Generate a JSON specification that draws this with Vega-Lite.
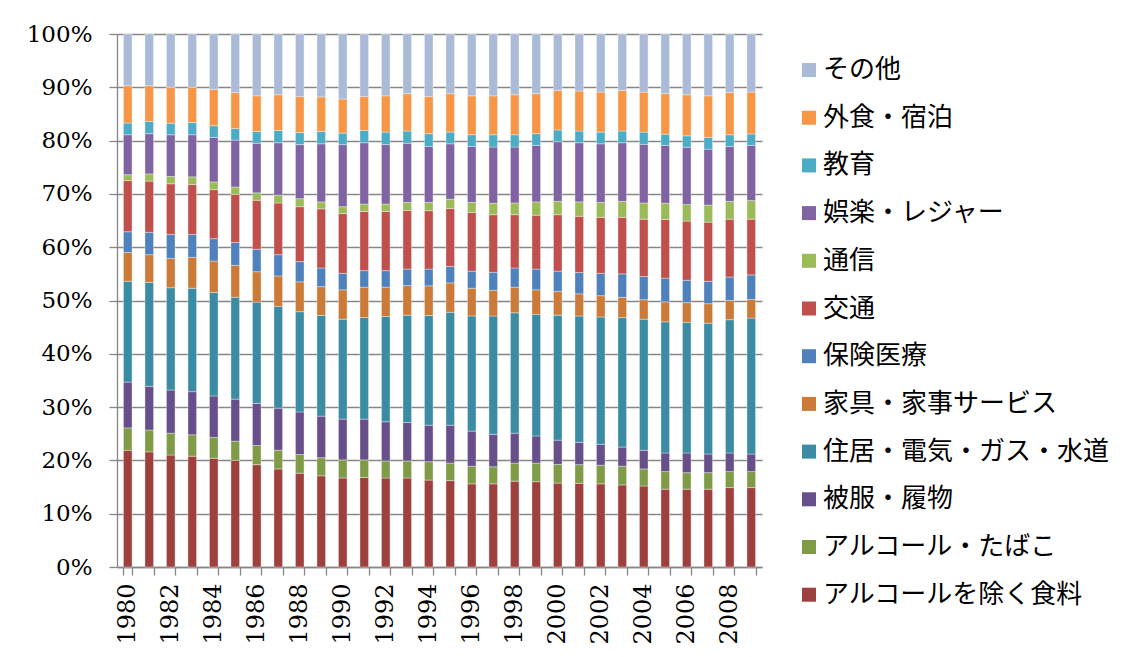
{
  "$schema": "https://vega.github.io/schema/vega-lite/v6.json",
  "width": 645,
  "height": 533,
  "autosize": {"type": "none"},
  "padding": {"left": 117, "top": 34, "right": 374, "bottom": 90},
  "background": "#ffffff",
  "config": {
    "view": {"stroke": null},
    "axis": {
      "labelFont": "DejaVu Serif",
      "labelFontSize": 23,
      "labelColor": "#000000",
      "domainColor": "#868686",
      "tickColor": "#868686",
      "gridColor": "#868686",
      "domainWidth": 1.3,
      "tickWidth": 1.3,
      "gridWidth": 1.3,
      "tickSize": 8
    }
  },
  "datasets": {
    "cats": [
      {"key": "fd", "name": "アルコールを除く食料", "k": 1},
      {"key": "al", "name": "アルコール・たばこ", "k": 2},
      {"key": "cl", "name": "被服・履物", "k": 3},
      {"key": "ho", "name": "住居・電気・ガス・水道", "k": 4},
      {"key": "fu", "name": "家具・家事サービス", "k": 5},
      {"key": "me", "name": "保険医療", "k": 6},
      {"key": "tr", "name": "交通", "k": 7},
      {"key": "co", "name": "通信", "k": 8},
      {"key": "re", "name": "娯楽・レジャー", "k": 9},
      {"key": "ed", "name": "教育", "k": 10},
      {"key": "di", "name": "外食・宿泊", "k": 11},
      {"key": "ot", "name": "その他", "k": 12}
    ],
    "shares": [
      {"year": 1980, "key": "fd", "v": 21.9}, {"year": 1980, "key": "al", "v": 4.2}, {"year": 1980, "key": "cl", "v": 8.6}, {"year": 1980, "key": "ho", "v": 18.9}, {"year": 1980, "key": "fu", "v": 5.4}, {"year": 1980, "key": "me", "v": 3.9}, {"year": 1980, "key": "tr", "v": 9.6}, {"year": 1980, "key": "co", "v": 1.1}, {"year": 1980, "key": "re", "v": 7.5}, {"year": 1980, "key": "ed", "v": 2.2}, {"year": 1980, "key": "di", "v": 7.0}, {"year": 1980, "key": "ot", "v": 9.7},
      {"year": 1981, "key": "fd", "v": 21.6}, {"year": 1981, "key": "al", "v": 4.1}, {"year": 1981, "key": "cl", "v": 8.2}, {"year": 1981, "key": "ho", "v": 19.5}, {"year": 1981, "key": "fu", "v": 5.2}, {"year": 1981, "key": "me", "v": 4.2}, {"year": 1981, "key": "tr", "v": 9.6}, {"year": 1981, "key": "co", "v": 1.35}, {"year": 1981, "key": "re", "v": 7.55}, {"year": 1981, "key": "ed", "v": 2.3}, {"year": 1981, "key": "di", "v": 6.7}, {"year": 1981, "key": "ot", "v": 9.7},
      {"year": 1982, "key": "fd", "v": 21.0}, {"year": 1982, "key": "al", "v": 4.1}, {"year": 1982, "key": "cl", "v": 8.1}, {"year": 1982, "key": "ho", "v": 19.2}, {"year": 1982, "key": "fu", "v": 5.5}, {"year": 1982, "key": "me", "v": 4.5}, {"year": 1982, "key": "tr", "v": 9.5}, {"year": 1982, "key": "co", "v": 1.35}, {"year": 1982, "key": "re", "v": 7.85}, {"year": 1982, "key": "ed", "v": 2.15}, {"year": 1982, "key": "di", "v": 6.75}, {"year": 1982, "key": "ot", "v": 10.0},
      {"year": 1983, "key": "fd", "v": 20.8}, {"year": 1983, "key": "al", "v": 4.0}, {"year": 1983, "key": "cl", "v": 8.1}, {"year": 1983, "key": "ho", "v": 19.4}, {"year": 1983, "key": "fu", "v": 5.8}, {"year": 1983, "key": "me", "v": 4.3}, {"year": 1983, "key": "tr", "v": 9.35}, {"year": 1983, "key": "co", "v": 1.45}, {"year": 1983, "key": "re", "v": 7.9}, {"year": 1983, "key": "ed", "v": 2.3}, {"year": 1983, "key": "di", "v": 6.6}, {"year": 1983, "key": "ot", "v": 10.0},
      {"year": 1984, "key": "fd", "v": 20.4}, {"year": 1984, "key": "al", "v": 3.9}, {"year": 1984, "key": "cl", "v": 7.8}, {"year": 1984, "key": "ho", "v": 19.4}, {"year": 1984, "key": "fu", "v": 5.9}, {"year": 1984, "key": "me", "v": 4.2}, {"year": 1984, "key": "tr", "v": 9.2}, {"year": 1984, "key": "co", "v": 1.45}, {"year": 1984, "key": "re", "v": 8.35}, {"year": 1984, "key": "ed", "v": 2.2}, {"year": 1984, "key": "di", "v": 6.8}, {"year": 1984, "key": "ot", "v": 10.4},
      {"year": 1985, "key": "fd", "v": 20.0}, {"year": 1985, "key": "al", "v": 3.6}, {"year": 1985, "key": "cl", "v": 7.9}, {"year": 1985, "key": "ho", "v": 19.1}, {"year": 1985, "key": "fu", "v": 6.0}, {"year": 1985, "key": "me", "v": 4.3}, {"year": 1985, "key": "tr", "v": 9.0}, {"year": 1985, "key": "co", "v": 1.4}, {"year": 1985, "key": "re", "v": 8.8}, {"year": 1985, "key": "ed", "v": 2.15}, {"year": 1985, "key": "di", "v": 6.75}, {"year": 1985, "key": "ot", "v": 11.0},
      {"year": 1986, "key": "fd", "v": 19.2}, {"year": 1986, "key": "al", "v": 3.6}, {"year": 1986, "key": "cl", "v": 7.9}, {"year": 1986, "key": "ho", "v": 19.0}, {"year": 1986, "key": "fu", "v": 5.7}, {"year": 1986, "key": "me", "v": 4.2}, {"year": 1986, "key": "tr", "v": 9.2}, {"year": 1986, "key": "co", "v": 1.4}, {"year": 1986, "key": "re", "v": 9.3}, {"year": 1986, "key": "ed", "v": 2.2}, {"year": 1986, "key": "di", "v": 6.7}, {"year": 1986, "key": "ot", "v": 11.6},
      {"year": 1987, "key": "fd", "v": 18.4}, {"year": 1987, "key": "al", "v": 3.5}, {"year": 1987, "key": "cl", "v": 7.9}, {"year": 1987, "key": "ho", "v": 19.1}, {"year": 1987, "key": "fu", "v": 5.7}, {"year": 1987, "key": "me", "v": 4.0}, {"year": 1987, "key": "tr", "v": 9.7}, {"year": 1987, "key": "co", "v": 1.45}, {"year": 1987, "key": "re", "v": 9.85}, {"year": 1987, "key": "ed", "v": 2.3}, {"year": 1987, "key": "di", "v": 6.7}, {"year": 1987, "key": "ot", "v": 11.4},
      {"year": 1988, "key": "fd", "v": 17.6}, {"year": 1988, "key": "al", "v": 3.5}, {"year": 1988, "key": "cl", "v": 8.0}, {"year": 1988, "key": "ho", "v": 18.8}, {"year": 1988, "key": "fu", "v": 5.6}, {"year": 1988, "key": "me", "v": 3.8}, {"year": 1988, "key": "tr", "v": 10.3}, {"year": 1988, "key": "co", "v": 1.5}, {"year": 1988, "key": "re", "v": 10.15}, {"year": 1988, "key": "ed", "v": 2.25}, {"year": 1988, "key": "di", "v": 6.75}, {"year": 1988, "key": "ot", "v": 11.75},
      {"year": 1989, "key": "fd", "v": 17.1}, {"year": 1989, "key": "al", "v": 3.4}, {"year": 1989, "key": "cl", "v": 7.8}, {"year": 1989, "key": "ho", "v": 18.9}, {"year": 1989, "key": "fu", "v": 5.4}, {"year": 1989, "key": "me", "v": 3.5}, {"year": 1989, "key": "tr", "v": 11.1}, {"year": 1989, "key": "co", "v": 1.3}, {"year": 1989, "key": "re", "v": 10.9}, {"year": 1989, "key": "ed", "v": 2.3}, {"year": 1989, "key": "di", "v": 6.5}, {"year": 1989, "key": "ot", "v": 11.8},
      {"year": 1990, "key": "fd", "v": 16.7}, {"year": 1990, "key": "al", "v": 3.4}, {"year": 1990, "key": "cl", "v": 7.65}, {"year": 1990, "key": "ho", "v": 18.75}, {"year": 1990, "key": "fu", "v": 5.5}, {"year": 1990, "key": "me", "v": 3.1}, {"year": 1990, "key": "tr", "v": 11.2}, {"year": 1990, "key": "co", "v": 1.3}, {"year": 1990, "key": "re", "v": 11.65}, {"year": 1990, "key": "ed", "v": 2.15}, {"year": 1990, "key": "di", "v": 6.4}, {"year": 1990, "key": "ot", "v": 12.2},
      {"year": 1991, "key": "fd", "v": 16.8}, {"year": 1991, "key": "al", "v": 3.3}, {"year": 1991, "key": "cl", "v": 7.65}, {"year": 1991, "key": "ho", "v": 19.05}, {"year": 1991, "key": "fu", "v": 5.7}, {"year": 1991, "key": "me", "v": 3.1}, {"year": 1991, "key": "tr", "v": 11.1}, {"year": 1991, "key": "co", "v": 1.4}, {"year": 1991, "key": "re", "v": 11.5}, {"year": 1991, "key": "ed", "v": 2.3}, {"year": 1991, "key": "di", "v": 6.35}, {"year": 1991, "key": "ot", "v": 11.75},
      {"year": 1992, "key": "fd", "v": 16.7}, {"year": 1992, "key": "al", "v": 3.2}, {"year": 1992, "key": "cl", "v": 7.35}, {"year": 1992, "key": "ho", "v": 19.75}, {"year": 1992, "key": "fu", "v": 5.5}, {"year": 1992, "key": "me", "v": 3.1}, {"year": 1992, "key": "tr", "v": 11.1}, {"year": 1992, "key": "co", "v": 1.4}, {"year": 1992, "key": "re", "v": 11.15}, {"year": 1992, "key": "ed", "v": 2.35}, {"year": 1992, "key": "di", "v": 6.8}, {"year": 1992, "key": "ot", "v": 11.6},
      {"year": 1993, "key": "fd", "v": 16.7}, {"year": 1993, "key": "al", "v": 3.2}, {"year": 1993, "key": "cl", "v": 7.2}, {"year": 1993, "key": "ho", "v": 20.15}, {"year": 1993, "key": "fu", "v": 5.55}, {"year": 1993, "key": "me", "v": 3.1}, {"year": 1993, "key": "tr", "v": 11.0}, {"year": 1993, "key": "co", "v": 1.5}, {"year": 1993, "key": "re", "v": 11.1}, {"year": 1993, "key": "ed", "v": 2.3}, {"year": 1993, "key": "di", "v": 7.0}, {"year": 1993, "key": "ot", "v": 11.2},
      {"year": 1994, "key": "fd", "v": 16.3}, {"year": 1994, "key": "al", "v": 3.45}, {"year": 1994, "key": "cl", "v": 6.85}, {"year": 1994, "key": "ho", "v": 20.6}, {"year": 1994, "key": "fu", "v": 5.55}, {"year": 1994, "key": "me", "v": 3.15}, {"year": 1994, "key": "tr", "v": 10.95}, {"year": 1994, "key": "co", "v": 1.55}, {"year": 1994, "key": "re", "v": 10.5}, {"year": 1994, "key": "ed", "v": 2.4}, {"year": 1994, "key": "di", "v": 6.95}, {"year": 1994, "key": "ot", "v": 11.75},
      {"year": 1995, "key": "fd", "v": 16.2}, {"year": 1995, "key": "al", "v": 3.3}, {"year": 1995, "key": "cl", "v": 7.1}, {"year": 1995, "key": "ho", "v": 21.2}, {"year": 1995, "key": "fu", "v": 5.5}, {"year": 1995, "key": "me", "v": 3.1}, {"year": 1995, "key": "tr", "v": 10.85}, {"year": 1995, "key": "co", "v": 1.75}, {"year": 1995, "key": "re", "v": 10.4}, {"year": 1995, "key": "ed", "v": 2.2}, {"year": 1995, "key": "di", "v": 7.2}, {"year": 1995, "key": "ot", "v": 11.2},
      {"year": 1996, "key": "fd", "v": 15.6}, {"year": 1996, "key": "al", "v": 3.3}, {"year": 1996, "key": "cl", "v": 6.6}, {"year": 1996, "key": "ho", "v": 21.6}, {"year": 1996, "key": "fu", "v": 5.2}, {"year": 1996, "key": "me", "v": 3.2}, {"year": 1996, "key": "tr", "v": 11.0}, {"year": 1996, "key": "co", "v": 1.9}, {"year": 1996, "key": "re", "v": 10.5}, {"year": 1996, "key": "ed", "v": 2.2}, {"year": 1996, "key": "di", "v": 7.3}, {"year": 1996, "key": "ot", "v": 11.6},
      {"year": 1997, "key": "fd", "v": 15.6}, {"year": 1997, "key": "al", "v": 3.2}, {"year": 1997, "key": "cl", "v": 6.1}, {"year": 1997, "key": "ho", "v": 22.2}, {"year": 1997, "key": "fu", "v": 4.8}, {"year": 1997, "key": "me", "v": 3.4}, {"year": 1997, "key": "tr", "v": 10.8}, {"year": 1997, "key": "co", "v": 2.15}, {"year": 1997, "key": "re", "v": 10.55}, {"year": 1997, "key": "ed", "v": 2.3}, {"year": 1997, "key": "di", "v": 7.3}, {"year": 1997, "key": "ot", "v": 11.6},
      {"year": 1998, "key": "fd", "v": 16.1}, {"year": 1998, "key": "al", "v": 3.4}, {"year": 1998, "key": "cl", "v": 5.6}, {"year": 1998, "key": "ho", "v": 22.6}, {"year": 1998, "key": "fu", "v": 4.8}, {"year": 1998, "key": "me", "v": 3.6}, {"year": 1998, "key": "tr", "v": 10.0}, {"year": 1998, "key": "co", "v": 2.2}, {"year": 1998, "key": "re", "v": 10.5}, {"year": 1998, "key": "ed", "v": 2.3}, {"year": 1998, "key": "di", "v": 7.5}, {"year": 1998, "key": "ot", "v": 11.4},
      {"year": 1999, "key": "fd", "v": 16.0}, {"year": 1999, "key": "al", "v": 3.5}, {"year": 1999, "key": "cl", "v": 5.1}, {"year": 1999, "key": "ho", "v": 22.8}, {"year": 1999, "key": "fu", "v": 4.6}, {"year": 1999, "key": "me", "v": 3.9}, {"year": 1999, "key": "tr", "v": 10.1}, {"year": 1999, "key": "co", "v": 2.5}, {"year": 1999, "key": "re", "v": 10.6}, {"year": 1999, "key": "ed", "v": 2.2}, {"year": 1999, "key": "di", "v": 7.5}, {"year": 1999, "key": "ot", "v": 11.2},
      {"year": 2000, "key": "fd", "v": 15.75}, {"year": 2000, "key": "al", "v": 3.5}, {"year": 2000, "key": "cl", "v": 4.55}, {"year": 2000, "key": "ho", "v": 23.45}, {"year": 2000, "key": "fu", "v": 4.45}, {"year": 2000, "key": "me", "v": 3.8}, {"year": 2000, "key": "tr", "v": 10.6}, {"year": 2000, "key": "co", "v": 2.5}, {"year": 2000, "key": "re", "v": 11.2}, {"year": 2000, "key": "ed", "v": 2.2}, {"year": 2000, "key": "di", "v": 7.4}, {"year": 2000, "key": "ot", "v": 10.6},
      {"year": 2001, "key": "fd", "v": 15.7}, {"year": 2001, "key": "al", "v": 3.5}, {"year": 2001, "key": "cl", "v": 4.2}, {"year": 2001, "key": "ho", "v": 23.7}, {"year": 2001, "key": "fu", "v": 4.15}, {"year": 2001, "key": "me", "v": 4.0}, {"year": 2001, "key": "tr", "v": 10.55}, {"year": 2001, "key": "co", "v": 2.7}, {"year": 2001, "key": "re", "v": 11.1}, {"year": 2001, "key": "ed", "v": 2.2}, {"year": 2001, "key": "di", "v": 7.5}, {"year": 2001, "key": "ot", "v": 10.7},
      {"year": 2002, "key": "fd", "v": 15.6}, {"year": 2002, "key": "al", "v": 3.5}, {"year": 2002, "key": "cl", "v": 3.9}, {"year": 2002, "key": "ho", "v": 23.9}, {"year": 2002, "key": "fu", "v": 4.0}, {"year": 2002, "key": "me", "v": 4.2}, {"year": 2002, "key": "tr", "v": 10.5}, {"year": 2002, "key": "co", "v": 2.8}, {"year": 2002, "key": "re", "v": 11.0}, {"year": 2002, "key": "ed", "v": 2.2}, {"year": 2002, "key": "di", "v": 7.5}, {"year": 2002, "key": "ot", "v": 10.9},
      {"year": 2003, "key": "fd", "v": 15.4}, {"year": 2003, "key": "al", "v": 3.5}, {"year": 2003, "key": "cl", "v": 3.6}, {"year": 2003, "key": "ho", "v": 24.3}, {"year": 2003, "key": "fu", "v": 3.8}, {"year": 2003, "key": "me", "v": 4.4}, {"year": 2003, "key": "tr", "v": 10.6}, {"year": 2003, "key": "co", "v": 3.0}, {"year": 2003, "key": "re", "v": 11.0}, {"year": 2003, "key": "ed", "v": 2.2}, {"year": 2003, "key": "di", "v": 7.6}, {"year": 2003, "key": "ot", "v": 10.6},
      {"year": 2004, "key": "fd", "v": 15.2}, {"year": 2004, "key": "al", "v": 3.2}, {"year": 2004, "key": "cl", "v": 3.5}, {"year": 2004, "key": "ho", "v": 24.6}, {"year": 2004, "key": "fu", "v": 3.65}, {"year": 2004, "key": "me", "v": 4.35}, {"year": 2004, "key": "tr", "v": 10.75}, {"year": 2004, "key": "co", "v": 3.05}, {"year": 2004, "key": "re", "v": 11.0}, {"year": 2004, "key": "ed", "v": 2.3}, {"year": 2004, "key": "di", "v": 7.5}, {"year": 2004, "key": "ot", "v": 10.9},
      {"year": 2005, "key": "fd", "v": 14.6}, {"year": 2005, "key": "al", "v": 3.3}, {"year": 2005, "key": "cl", "v": 3.5}, {"year": 2005, "key": "ho", "v": 24.6}, {"year": 2005, "key": "fu", "v": 3.75}, {"year": 2005, "key": "me", "v": 4.45}, {"year": 2005, "key": "tr", "v": 11.0}, {"year": 2005, "key": "co", "v": 3.05}, {"year": 2005, "key": "re", "v": 10.85}, {"year": 2005, "key": "ed", "v": 2.1}, {"year": 2005, "key": "di", "v": 7.6}, {"year": 2005, "key": "ot", "v": 11.2},
      {"year": 2006, "key": "fd", "v": 14.6}, {"year": 2006, "key": "al", "v": 3.1}, {"year": 2006, "key": "cl", "v": 3.7}, {"year": 2006, "key": "ho", "v": 24.5}, {"year": 2006, "key": "fu", "v": 3.7}, {"year": 2006, "key": "me", "v": 4.2}, {"year": 2006, "key": "tr", "v": 11.1}, {"year": 2006, "key": "co", "v": 3.1}, {"year": 2006, "key": "re", "v": 10.75}, {"year": 2006, "key": "ed", "v": 2.15}, {"year": 2006, "key": "di", "v": 7.7}, {"year": 2006, "key": "ot", "v": 11.4},
      {"year": 2007, "key": "fd", "v": 14.6}, {"year": 2007, "key": "al", "v": 3.1}, {"year": 2007, "key": "cl", "v": 3.5}, {"year": 2007, "key": "ho", "v": 24.55}, {"year": 2007, "key": "fu", "v": 3.65}, {"year": 2007, "key": "me", "v": 4.2}, {"year": 2007, "key": "tr", "v": 11.1}, {"year": 2007, "key": "co", "v": 3.2}, {"year": 2007, "key": "re", "v": 10.5}, {"year": 2007, "key": "ed", "v": 2.2}, {"year": 2007, "key": "di", "v": 7.8}, {"year": 2007, "key": "ot", "v": 11.6},
      {"year": 2008, "key": "fd", "v": 14.9}, {"year": 2008, "key": "al", "v": 3.0}, {"year": 2008, "key": "cl", "v": 3.5}, {"year": 2008, "key": "ho", "v": 25.0}, {"year": 2008, "key": "fu", "v": 3.6}, {"year": 2008, "key": "me", "v": 4.4}, {"year": 2008, "key": "tr", "v": 10.85}, {"year": 2008, "key": "co", "v": 3.35}, {"year": 2008, "key": "re", "v": 10.3}, {"year": 2008, "key": "ed", "v": 2.2}, {"year": 2008, "key": "di", "v": 7.9}, {"year": 2008, "key": "ot", "v": 11.0},
      {"year": 2009, "key": "fd", "v": 14.9}, {"year": 2009, "key": "al", "v": 3.0}, {"year": 2009, "key": "cl", "v": 3.3}, {"year": 2009, "key": "ho", "v": 25.5}, {"year": 2009, "key": "fu", "v": 3.5}, {"year": 2009, "key": "me", "v": 4.6}, {"year": 2009, "key": "tr", "v": 10.45}, {"year": 2009, "key": "co", "v": 3.5}, {"year": 2009, "key": "re", "v": 10.35}, {"year": 2009, "key": "ed", "v": 2.15}, {"year": 2009, "key": "di", "v": 7.85}, {"year": 2009, "key": "ot", "v": 10.9}
    ]
  },
  "data": {"name": "shares"},
  "transform": [
    {"lookup": "key", "from": {"data": {"name": "cats"}, "key": "key", "fields": ["name", "k"]}}
  ],
  "mark": {"type": "bar", "stroke": "#ffffff", "strokeWidth": 0.6, "strokeOpacity": 0.6},
  "encoding": {
    "x": {
      "field": "year",
      "type": "ordinal",
      "scale": {"paddingInner": 0.6, "paddingOuter": 0.3},
      "axis": {
        "title": null,
        "labelAngle": -90,
        "labelFontSize": 24,
        "labelExpr": "datum.value % 2 == 0 ? datum.label : ''",
        "labelOverlap": false,
        "tickBand": "extent",
        "labelPadding": 8,
        "grid": false
      }
    },
    "y": {
      "field": "v",
      "type": "quantitative",
      "stack": "normalize",
      "scale": {"domain": [0, 1], "nice": false},
      "axis": {
        "title": null,
        "values": [0, 0.1, 0.2, 0.3, 0.4, 0.5, 0.6, 0.7, 0.8, 0.9, 1],
        "format": ".0%",
        "grid": true,
        "labelPadding": 17
      }
    },
    "color": {
      "field": "name",
      "type": "nominal",
      "scale": {
        "domain": ["その他", "外食・宿泊", "教育", "娯楽・レジャー", "通信", "交通", "保険医療", "家具・家事サービス", "住居・電気・ガス・水道", "被服・履物", "アルコール・たばこ", "アルコールを除く食料"],
        "range": ["#AABAD7", "#F79646", "#4BACC6", "#8064A2", "#9BBB59", "#C0504D", "#4F81BD", "#CC7A38", "#3B8CA3", "#674F89", "#7F9B48", "#9E413E"]
      },
      "legend": {
        "title": null,
        "orient": "none",
        "legendX": 679,
        "legendY": 23,
        "padding": 0,
        "symbolType": "square",
        "symbolSize": 196,
        "symbolStrokeWidth": 0,
        "labelFont": "Noto Sans CJK JP",
        "labelFontSize": 26,
        "labelColor": "#000000",
        "labelOffset": 1,
        "labelLimit": 420,
        "rowPadding": 21.7
      }
    },
    "order": {"field": "k", "type": "quantitative", "sort": "ascending"}
  }
}
